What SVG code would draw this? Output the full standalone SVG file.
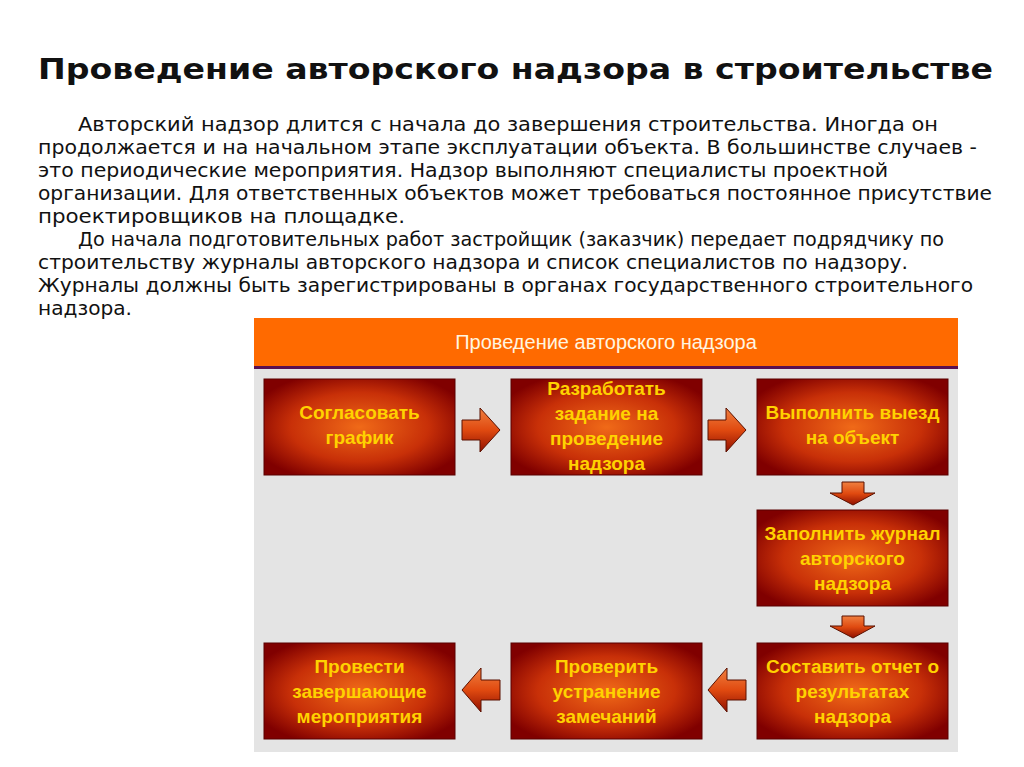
<svg xmlns="http://www.w3.org/2000/svg" width="1024" height="767" viewBox="0 0 1024 767">
<style>
.t{font-family:"DejaVu Sans","Liberation Sans",sans-serif;font-size:19px;fill:#111}
.b{font-family:"Liberation Sans",Arial,sans-serif;font-weight:bold;font-size:19px;fill:#ffd200;text-anchor:middle}
.box{fill:url(#g);stroke:#5a0000;stroke-width:1}
.ar{fill:url(#ga);stroke:#5a1000;stroke-width:1}
</style>
<defs>
<radialGradient id="g" cx="0.5" cy="0.5" r="0.6"><stop offset="0" stop-color="#f06a18"/><stop offset="0.6" stop-color="#c83008"/><stop offset="1" stop-color="#800000"/></radialGradient>
<linearGradient id="ga" x1="0" y1="0" x2="0" y2="1"><stop offset="0" stop-color="#f08040"/><stop offset="0.5" stop-color="#e04a10"/><stop offset="1" stop-color="#901000"/></linearGradient>
</defs>
<rect width="1024" height="767" fill="#fff"/>
<text x="38" y="79" textLength="955" lengthAdjust="spacingAndGlyphs" style="font-family:'DejaVu Sans','Liberation Sans',sans-serif;font-weight:bold;font-size:29px;fill:#111">Проведение авторского надзора в строительстве</text>
<g class="t">
<text x="78" y="131" textLength="860" lengthAdjust="spacingAndGlyphs">Авторский надзор длится с начала до завершения строительства. Иногда он</text>
<text x="38" y="154" textLength="939" lengthAdjust="spacingAndGlyphs">продолжается и на начальном этапе эксплуатации объекта. В большинстве случаев -</text>
<text x="38" y="177" textLength="850" lengthAdjust="spacingAndGlyphs">это периодические мероприятия. Надзор выполняют специалисты проектной</text>
<text x="38" y="200" textLength="954" lengthAdjust="spacingAndGlyphs">организации. Для ответственных объектов может требоваться постоянное присутствие</text>
<text x="38" y="223" textLength="367" lengthAdjust="spacingAndGlyphs">проектировщиков на площадке.</text>
<text x="78" y="246" textLength="866" lengthAdjust="spacingAndGlyphs">До начала подготовительных работ застройщик (заказчик) передает подрядчику по</text>
<text x="38" y="269" textLength="870" lengthAdjust="spacingAndGlyphs">строительству журналы авторского надзора и список специалистов по надзору.</text>
<text x="38" y="292" textLength="935" lengthAdjust="spacingAndGlyphs">Журналы должны быть зарегистрированы в органах государственного строительного</text>
<text x="38" y="315" textLength="94" lengthAdjust="spacingAndGlyphs">надзора.</text>
</g>
<g id="panel">
<rect x="254" y="318" width="704" height="434" fill="#e4e4e4"/>
<rect x="254" y="318" width="704" height="48" fill="#ff6a00"/>
<rect x="254" y="366" width="704" height="3" fill="#5a1050"/>
<text x="606" y="349" text-anchor="middle" style="font-family:'Liberation Sans',Arial,sans-serif;font-size:20px;fill:#fff5e0">Проведение авторского надзора</text>
</g>
<g id="n1"><rect class="box" x="264" y="379" width="191" height="96"/><text class="b"><tspan x="359.5" y="419">Согласовать</tspan><tspan x="359.5" y="444">график</tspan></text></g>
<g id="n2"><rect class="box" x="511" y="379" width="191" height="96"/><text class="b"><tspan x="606.5" y="395">Разработать</tspan><tspan x="606.5" y="420">задание на</tspan><tspan x="606.5" y="445">проведение</tspan><tspan x="606.5" y="470">надзора</tspan></text></g>
<g id="n3"><rect class="box" x="757" y="379" width="191" height="96"/><text class="b"><tspan x="852.5" y="419">Выполнить выезд</tspan><tspan x="852.5" y="444">на объект</tspan></text></g>
<g id="n4"><rect class="box" x="757" y="510" width="191" height="96"/><text class="b"><tspan x="852.5" y="540">Заполнить журнал</tspan><tspan x="852.5" y="565">авторского</tspan><tspan x="852.5" y="590">надзора</tspan></text></g>
<g id="n5"><rect class="box" x="757" y="643" width="191" height="96"/><text class="b"><tspan x="852.5" y="673">Составить отчет о</tspan><tspan x="852.5" y="698">результатах</tspan><tspan x="852.5" y="723">надзора</tspan></text></g>
<g id="n6"><rect class="box" x="511" y="643" width="191" height="96"/><text class="b"><tspan x="606.5" y="673">Проверить</tspan><tspan x="606.5" y="698">устранение</tspan><tspan x="606.5" y="723">замечаний</tspan></text></g>
<g id="n7"><rect class="box" x="264" y="643" width="191" height="96"/><text class="b"><tspan x="359.5" y="673">Провести</tspan><tspan x="359.5" y="698">завершающие</tspan><tspan x="359.5" y="723">мероприятия</tspan></text></g>
<g id="connectors">
<path class="ar" d="M462,420 H480 V408 L500,430 L480,452 V440 H462 Z"/>
<path class="ar" d="M708,420 H726 V408 L746,430 L726,452 V440 H708 Z"/>
<path class="ar" d="M842,482 H864 V493 H875 L853,505 L830,493 H842 Z"/>
<path class="ar" d="M842,616 H864 V626 H875 L853,638 L830,626 H842 Z"/>
<path class="ar" d="M746,680 H727 V668 L708,690 L727,712 V700 H746 Z"/>
<path class="ar" d="M500,680 H481 V668 L462,690 L481,712 V700 H500 Z"/>
</g>
</svg>
